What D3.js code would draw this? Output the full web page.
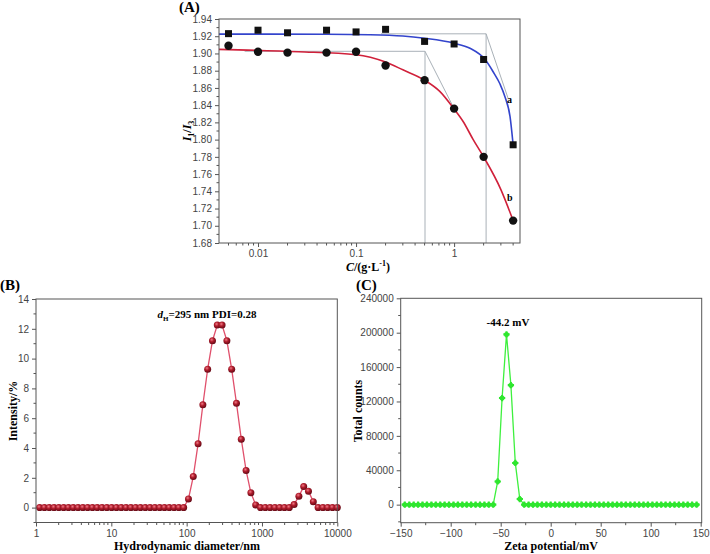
<!DOCTYPE html>
<html><head><meta charset="utf-8">
<script src="https://cdn.jsdelivr.net/npm/d3@7"></script>
<style>body{margin:0;background:#fff}svg{display:block}</style>
</head><body>
<script>
// ---------- Panel A data ----------
const concA = [0.005, 0.01, 0.02, 0.05, 0.1, 0.2, 0.5, 1, 2, 4];
const ratioA_a = [1.923, 1.927, 1.924, 1.927, 1.925, 1.928, 1.914, 1.911, 1.893, 1.794];
const ratioA_b = [1.909, 1.902, 1.901, 1.901, 1.902, 1.886, 1.869, 1.836, 1.780, 1.706];
const fitA_aX = [0.004, 0.05, 0.137, 0.3, 0.5, 1.0, 1.45, 2.06, 2.5, 2.94, 3.3, 3.72, 4.0];
const fitA_aY = [1.9225, 1.9223, 1.9218, 1.9203, 1.9176, 1.9118, 1.906, 1.8932, 1.8788, 1.8645, 1.8498, 1.8266, 1.794];
const fitA_bX = [0.004, 0.026, 0.1, 0.2, 0.3, 0.5, 0.714, 1.0, 1.236, 1.566, 2.0, 3.0, 4.0];
const fitA_bY = [1.9048, 1.902, 1.8985, 1.890, 1.881, 1.869, 1.856, 1.8355, 1.821, 1.800, 1.780, 1.742, 1.706];
const yTicksA = [1.68, 1.70, 1.72, 1.74, 1.76, 1.78, 1.80, 1.82, 1.84, 1.86, 1.88, 1.90, 1.92, 1.94];
const xTicksA = [0.01, 0.1, 1];
// CMC guide lines: [x of break, plateau level, start x of plateau, tangent end x, tangent end y]
const cmcA = [[2.12, 1.9228, 0.18, 3.55, 1.848], [0.505, 1.9025, 0.0073, 1.0, 1.836]];

// ---------- Panel B data ----------
const sizeB = [1.117, 1.294, 1.499, 1.736, 2.010, 2.328, 2.696, 3.122, 3.615, 4.187, 4.849, 5.615, 6.503, 7.531, 8.721,
  10.10, 11.70, 13.54, 15.69, 18.17, 21.04, 24.36, 28.21, 32.67, 37.84, 43.82, 50.75, 58.77, 68.06, 78.82, 91.28,
  105.7, 122.4, 141.8, 164.2, 190.1, 220.2, 255.0, 295.3, 342.0, 396.1, 458.7, 531.2, 615.1, 712.4, 825.0, 955.4,
  1106, 1281, 1484, 1718, 1990, 2305, 2669, 3091, 3580, 4145, 4801, 5560, 6439, 7456, 8635, 10000];
const intensityB = [0, 0, 0, 0, 0, 0, 0, 0, 0, 0, 0, 0, 0, 0, 0,
  0, 0, 0, 0, 0, 0, 0, 0, 0, 0, 0, 0, 0, 0, 0, 0,
  0.58, 2.08, 4.28, 6.9, 9.29, 11.2, 12.25, 12.25, 11.2, 9.29, 7.0, 4.59, 2.49, 0.99, 0.18, 0,
  0, 0, 0, 0, 0, 0, 0.2, 0.77, 1.41, 1.1, 0.4, 0, 0, 0, 0, 0];
const yTicksB = [0, 2, 4, 6, 8, 10, 12, 14];
const xTicksB = [1, 10, 100, 1000, 10000];

// ---------- Panel C data ----------
const zetaC = [-145.9, -141.4, -137.0, -132.6, -128.2, -123.8, -119.3, -114.9, -110.5, -106.1, -101.7, -97.2, -92.8,
  -88.4, -84.0, -79.6, -75.1, -70.7, -66.3, -61.9, -57.5, -53.0, -48.6, -44.2, -39.8, -35.4, -30.9, -26.5, -22.1,
  -17.7, -13.3, -8.8, -4.4, 0.0, 4.4, 8.8, 13.3, 17.7, 22.1, 26.5, 30.9, 35.4, 39.8, 44.2, 48.6, 53.0, 57.5, 61.9,
  66.3, 70.7, 75.1, 79.6, 84.0, 88.4, 92.8, 97.2, 101.7, 106.1, 110.5, 114.9, 119.3, 123.8, 128.2, 132.6, 137.0,
  141.4, 145.9];
const countsC = [0, 0, 0, 0, 0, 0, 0, 0, 0, 0, 0, 0, 0,
  0, 0, 0, 0, 0, 0, 0, 0, 27000, 124000, 198000, 139000, 48500, 6500, 0, 0,
  0, 0, 0, 0, 0, 0, 0, 0, 0, 0, 0, 0, 0, 0, 0, 0, 0, 0, 0,
  0, 0, 0, 0, 0, 0, 0, 0, 0, 0, 0, 0, 0, 0, 0, 0, 0,
  0, 0];
const yTicksC = [0, 40000, 80000, 120000, 160000, 200000, 240000];
const xTicksC = [-150, -100, -50, 0, 50, 100, 150];

// ---------- drawing ----------
const svg = d3.select("body").append("svg").attr("width", 710).attr("height", 554);
svg.append("rect").attr("width", 710).attr("height", 554).attr("fill", "#fff");
const SANS = "'Liberation Sans', Arial, sans-serif";
const SERIF = "'Liberation Serif', 'Times New Roman', serif";
const AX = "#555";

function frame(x0, y0, x1, y1) {
  svg.append("rect").attr("x", x0).attr("y", y0).attr("width", x1 - x0).attr("height", y1 - y0)
    .attr("fill", "none").attr("stroke", AX).attr("stroke-width", 1);
}
function styleAxis(g) {
  g.select(".domain").remove();
  g.selectAll(".tick line").attr("stroke", AX);
  g.selectAll(".tick text").attr("font-family", SANS).attr("font-size", 10).attr("fill", "#444");
}
function minorY(scale, x, vals) {
  svg.append("g").selectAll("line").data(vals).join("line")
    .attr("x1", x).attr("x2", x - 2.5).attr("y1", d => scale(d)).attr("y2", d => scale(d)).attr("stroke", AX);
}
function minorX(scale, y, vals) {
  svg.append("g").selectAll("line").data(vals).join("line")
    .attr("y1", y).attr("y2", y + 2.5).attr("x1", d => scale(d)).attr("x2", d => scale(d)).attr("stroke", AX);
}
function logMinors(lo, hi) {
  const out = [];
  for (let e = -4; e <= 5; e++) for (let m = 2; m <= 9; m++) {
    const v = m * Math.pow(10, e);
    if (v > lo && v < hi) out.push(v);
  }
  return out;
}

// ===== Panel A =====
const xA = d3.scaleLog().domain([0.0040, 4.7]).range([219, 520]);
const yA = d3.scaleLinear().domain([1.68, 1.94]).range([243, 19]);
const gGuide = svg.append("g").attr("stroke", "#a9b1b8").attr("stroke-width", 1).attr("fill", "none");
cmcA.forEach(c => {
  gGuide.append("line").attr("x1", xA(c[2])).attr("x2", xA(c[0])).attr("y1", yA(c[1])).attr("y2", yA(c[1]));
  gGuide.append("line").attr("x1", xA(c[0])).attr("x2", xA(c[0])).attr("y1", yA(c[1])).attr("y2", yA(1.68));
  gGuide.append("line").attr("x1", xA(c[0])).attr("x2", xA(c[3])).attr("y1", yA(c[1])).attr("y2", yA(c[4]));
});
const lineA = d3.line().x(d => xA(d[0])).y(d => yA(d[1])).curve(d3.curveMonotoneX);
svg.append("path").attr("d", lineA(fitA_bX.map((x, i) => [x, fitA_bY[i]])))
  .attr("fill", "none").attr("stroke", "#d0203a").attr("stroke-width", 1.6);
svg.append("path").attr("d", lineA(fitA_aX.map((x, i) => [x, fitA_aY[i]])))
  .attr("fill", "none").attr("stroke", "#3344cc").attr("stroke-width", 1.6);
svg.append("g").selectAll("rect").data(concA).join("rect")
  .attr("x", (d) => xA(d) - 3.5).attr("y", (d, i) => yA(ratioA_a[i]) - 3.5)
  .attr("width", 7).attr("height", 7).attr("fill", "#111");
svg.append("g").selectAll("circle").data(concA).join("circle")
  .attr("cx", d => xA(d)).attr("cy", (d, i) => yA(ratioA_b[i])).attr("r", 4.2).attr("fill", "#111");
frame(219, 19, 520, 243);
svg.append("g").attr("transform", "translate(219,0)")
  .call(d3.axisLeft(yA).tickValues(yTicksA).tickFormat(d3.format(".2f")).tickSize(4).tickSizeOuter(0)).call(styleAxis);
minorY(yA, 219, yTicksA.slice(0, -1).map(v => v + 0.01));
svg.append("g").attr("transform", "translate(0,243)")
  .call(d3.axisBottom(xA).tickValues(xTicksA).tickFormat(d => String(d)).tickSize(4).tickSizeOuter(0)).call(styleAxis);
minorX(xA, 243, logMinors(0.004, 4.7));
svg.append("text").attr("x", 179).attr("y", 12).attr("font-family", SERIF).attr("font-weight", "bold")
  .attr("font-size", 15).text("(A)");
svg.append("text").attr("x", 507).attr("y", 103).attr("font-family", SERIF).attr("font-weight", "bold").attr("font-size", 10).text("a");
svg.append("text").attr("x", 507).attr("y", 201).attr("font-family", SERIF).attr("font-weight", "bold").attr("font-size", 10).text("b");
const tA = svg.append("text").attr("transform", "translate(191,131) rotate(-90)").attr("text-anchor", "middle")
  .attr("font-family", SERIF).attr("font-weight", "bold").attr("font-size", 12);
tA.append("tspan").attr("font-style", "italic").text("I");
tA.append("tspan").attr("font-size", 8).attr("dy", 3).text("1");
tA.append("tspan").attr("dy", -3).text("/");
tA.append("tspan").attr("font-style", "italic").text("I");
tA.append("tspan").attr("font-size", 8).attr("dy", 3).text("3");
const xtA = svg.append("text").attr("x", 368).attr("y", 271).attr("text-anchor", "middle")
  .attr("font-family", SERIF).attr("font-weight", "bold").attr("font-size", 12);
xtA.append("tspan").attr("font-style", "italic").text("C");
xtA.append("tspan").text("/(g·L");
xtA.append("tspan").attr("font-size", 8).attr("dy", -5).text("-1");
xtA.append("tspan").attr("dy", 5).text(")");

// ===== Panel B =====
const xB = d3.scaleLog().domain([1, 10000]).range([36, 337.3]);
const yB = d3.scaleLinear().domain([-1, 14]).range([522.5, 299]);
const defs = svg.append("defs");
const grad = defs.append("radialGradient").attr("id", "ball").attr("cx", "40%").attr("cy", "35%").attr("r", "65%");
grad.append("stop").attr("offset", "0%").attr("stop-color", "#f07a86");
grad.append("stop").attr("offset", "45%").attr("stop-color", "#b01c2c");
grad.append("stop").attr("offset", "100%").attr("stop-color", "#640a16");
svg.append("path").attr("d", d3.line().x((d, i) => xB(sizeB[i])).y(d => yB(d))(intensityB))
  .attr("fill", "none").attr("stroke", "#e0506c").attr("stroke-width", 1.3);
svg.append("g").selectAll("circle").data(intensityB).join("circle")
  .attr("cx", (d, i) => xB(sizeB[i])).attr("cy", d => yB(d)).attr("r", 3.5).attr("fill", "url(#ball)");
frame(36, 299, 337.3, 522.5);
svg.append("g").attr("transform", "translate(36,0)")
  .call(d3.axisLeft(yB).tickValues(yTicksB).tickFormat(d3.format("d")).tickSize(4).tickSizeOuter(0)).call(styleAxis);
minorY(yB, 36, [-1, 1, 3, 5, 7, 9, 11, 13]);
svg.append("g").attr("transform", "translate(0,522.5)")
  .call(d3.axisBottom(xB).tickValues(xTicksB).tickFormat(d => String(d)).tickSize(4).tickSizeOuter(0)).call(styleAxis);
minorX(xB, 522.5, logMinors(1, 10000));
svg.append("text").attr("x", 0).attr("y", 290).attr("font-family", SERIF).attr("font-weight", "bold").attr("font-size", 15).text("(B)");
const annB = svg.append("text").attr("x", 207).attr("y", 318).attr("text-anchor", "middle")
  .attr("font-family", SERIF).attr("font-weight", "bold").attr("font-size", 11);
annB.append("tspan").attr("font-style", "italic").text("d");
annB.append("tspan").attr("font-size", 7).attr("dy", 3).text("H");
annB.append("tspan").attr("dy", -3).text("=295 nm PDI=0.28");
svg.append("text").attr("transform", "translate(17,411) rotate(-90)").attr("text-anchor", "middle")
  .attr("font-family", SERIF).attr("font-weight", "bold").attr("font-size", 12).text("Intensity/%");
svg.append("text").attr("x", 187).attr("y", 550).attr("text-anchor", "middle")
  .attr("font-family", SERIF).attr("font-weight", "bold").attr("font-size", 12).text("Hydrodynamic diameter/nm");

// ===== Panel C =====
const xC = d3.scaleLinear().domain([-150, 151]).range([400.7, 701.7]);
const yC = d3.scaleLinear().domain([-21000, 240000]).range([522.7, 298.3]);
svg.append("path").attr("d", d3.line().x((d, i) => xC(zetaC[i])).y(d => yC(d))(countsC))
  .attr("fill", "none").attr("stroke", "#3ef03e").attr("stroke-width", 1.3);
svg.append("g").selectAll("path").data(countsC).join("path")
  .attr("transform", (d, i) => `translate(${xC(zetaC[i])},${yC(d)})`)
  .attr("d", d3.symbol().type(d3.symbolCross).size(22)).attr("fill", "#2ee62e");
svg.append("g").selectAll("circle").data(countsC).join("circle")
  .attr("cx", (d, i) => xC(zetaC[i])).attr("cy", d => yC(d)).attr("r", 2.5).attr("fill", "#2ee62e");
frame(400.7, 298.3, 701.7, 522.7);
svg.append("g").attr("transform", "translate(400.7,0)")
  .call(d3.axisLeft(yC).tickValues(yTicksC).tickFormat(d3.format("d")).tickSize(4).tickSizeOuter(0)).call(styleAxis);
minorY(yC, 400.7, [-20000, 20000, 60000, 100000, 140000, 180000, 220000]);
svg.append("g").attr("transform", "translate(0,522.7)")
  .call(d3.axisBottom(xC).tickValues(xTicksC).tickFormat(d3.format("d")).tickSize(4).tickSizeOuter(0)).call(styleAxis);
minorX(xC, 522.7, [-125, -75, -25, 25, 75, 125]);
svg.append("text").attr("x", 356).attr("y", 290).attr("font-family", SERIF).attr("font-weight", "bold").attr("font-size", 15).text("(C)");
svg.append("text").attr("x", 508).attr("y", 326).attr("text-anchor", "middle")
  .attr("font-family", SERIF).attr("font-weight", "bold").attr("font-size", 11).text("-44.2 mV");
svg.append("text").attr("transform", "translate(362,411) rotate(-90)").attr("text-anchor", "middle")
  .attr("font-family", SERIF).attr("font-weight", "bold").attr("font-size", 12).text("Total counts");
svg.append("text").attr("x", 551).attr("y", 550).attr("text-anchor", "middle")
  .attr("font-family", SERIF).attr("font-weight", "bold").attr("font-size", 12).text("Zeta potential/mV");
</script>
</body></html>
